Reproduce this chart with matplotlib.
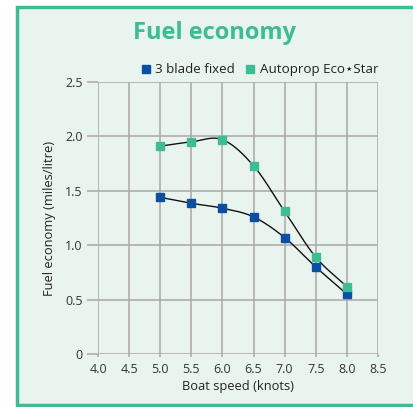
import numpy as np
import matplotlib
matplotlib.use("Agg")
import matplotlib.pyplot as plt
from matplotlib.patches import Rectangle
from matplotlib.lines import Line2D

plt.rcParams['font.family'] = ['Open Sans', 'DejaVu Sans']

speed = [5.0, 5.5, 6.0, 6.5, 7.0, 7.5, 8.0]
fixed = [1.44, 1.385, 1.34, 1.26, 1.07, 0.80, 0.55]
autoprop = [1.91, 1.95, 1.97, 1.73, 1.31, 0.89, 0.62]
series_names = ["3 blade fixed", "Autoprop Eco\u22c6Star"]
x_ticks = [4.0, 4.5, 5.0, 5.5, 6.0, 6.5, 7.0, 7.5, 8.0, 8.5]
y_ticks = [0, 0.5, 1.0, 1.5, 2.0, 2.5]
y_tick_labels = ["0", "0.5", "1.0", "1.5", "2.0", "2.5"]

BLUE = "#0b4ea2"
GREEN = "#3dbc95"
BG = "#eaf4ee"


def smooth(x, y, n=30, tension=0.5):
    x = np.asarray(x, float); y = np.asarray(y, float)
    px = np.concatenate([[2 * x[0] - x[1]], x, [2 * x[-1] - x[-2]]])
    py = np.concatenate([[2 * y[0] - y[1]], y, [2 * y[-1] - y[-2]]])
    xs, ys = [], []
    for i in range(1, len(px) - 2):
        t = np.linspace(0, 1, n, endpoint=False)
        m1x = tension * (px[i + 1] - px[i - 1]); m2x = tension * (px[i + 2] - px[i])
        m1y = tension * (py[i + 1] - py[i - 1]); m2y = tension * (py[i + 2] - py[i])
        h00 = 2 * t**3 - 3 * t**2 + 1; h10 = t**3 - 2 * t**2 + t
        h01 = -2 * t**3 + 3 * t**2; h11 = t**3 - t**2
        xs.append(h00 * px[i] + h10 * m1x + h01 * px[i + 1] + h11 * m2x)
        ys.append(h00 * py[i] + h10 * m1y + h01 * py[i + 1] + h11 * m2y)
    xs.append([x[-1]]); ys.append([y[-1]])
    return np.concatenate(xs), np.concatenate(ys)


fig = plt.figure(figsize=(4.13, 4.07), dpi=100)
fig.patch.set_facecolor("white")
frame = Rectangle((17 / 413, 2 / 407), 1.0, 398 / 407, transform=fig.transFigure,
                  facecolor=BG, edgecolor=GREEN, linewidth=2.5, zorder=-10)
fig.patches.append(frame)

ax = fig.add_axes([98 / 413, 1 - 354 / 407, 280 / 413, 272 / 407])
ax.set_facecolor("none")
ax.set_xlim(4.0, 8.5)
ax.set_ylim(0, 2.5)
for s in ax.spines.values():
    s.set_visible(False)
ax.set_xticks(x_ticks)
ax.set_xticklabels([f"{v:.1f}" for v in x_ticks])
ax.set_yticks(y_ticks)
ax.set_yticklabels(y_tick_labels)
ax.grid(True, color="#adadad", linewidth=1.2)
ax.tick_params(axis="y", length=8, width=1.2, color="#adadad", pad=3, labelsize=9, labelcolor="#333333")
ax.tick_params(axis="x", length=2.5, width=1.2, color="#adadad", pad=4, labelsize=9, labelcolor="#333333")
ax.set_axisbelow(True)

for yv, col in [(fixed, BLUE), (autoprop, GREEN)]:
    sx, sy = smooth(speed, yv)
    ax.plot(sx, sy, color="#111111", linewidth=1.0, zorder=2)
    ax.plot(speed, yv, linestyle="none", marker="s", markersize=6.3, color=col, zorder=3)

ax.set_xlabel("Boat speed (knots)", fontsize=9.3, color="#222222", labelpad=3)
ax.set_ylabel("Fuel economy (miles/litre)", fontsize=9.3, color="#222222", labelpad=7)

fig.text(215 / 413, 1 - 33 / 407, "Fuel economy", ha="center", va="center",
         fontsize=17, fontweight="bold", color=GREEN)

handles = [Line2D([], [], linestyle="none", marker="s", markersize=6, color=BLUE),
           Line2D([], [], linestyle="none", marker="s", markersize=6, color=GREEN)]
ax.legend(handles, series_names, loc="center right", bbox_to_anchor=(1.0, 1.045),
          ncol=2, frameon=False, fontsize=9.6, handlelength=0.7, handletextpad=0.35,
          columnspacing=0.8, borderpad=0, borderaxespad=0, labelcolor="#222222")

fig.savefig("out.png", dpi=100, facecolor="white")
